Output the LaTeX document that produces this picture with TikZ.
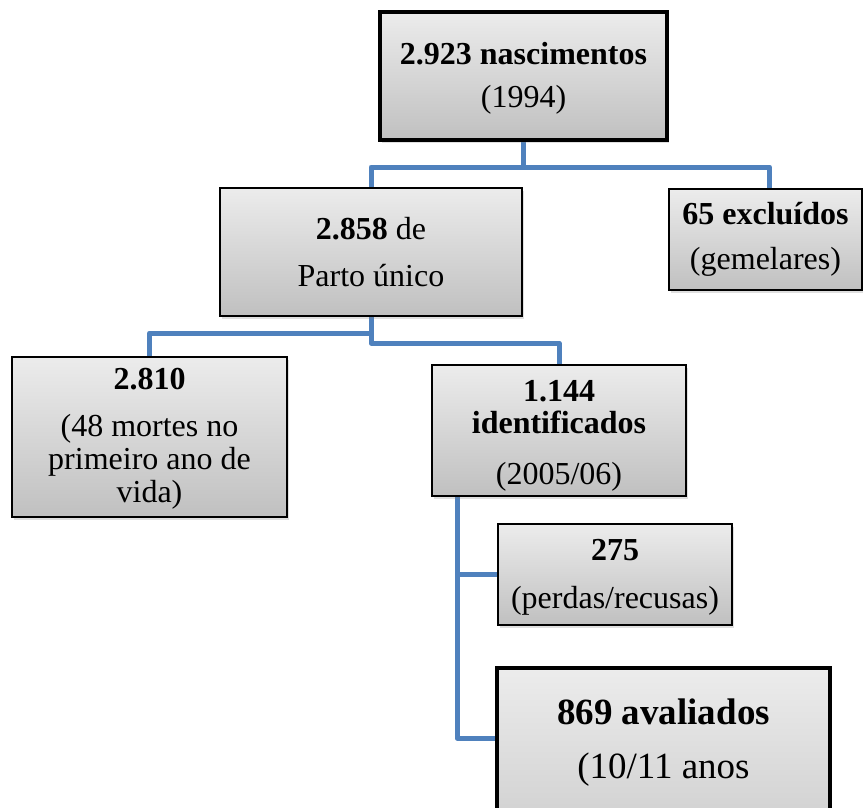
\documentclass[tikz,border=0pt]{standalone}
\usepackage{fontspec}
\setmainfont{Liberation Serif}
\usetikzlibrary{shadows,backgrounds}
\definecolor{linkblue}{RGB}{79,129,189}
\definecolor{gtop}{RGB}{236,236,236}
\definecolor{gbot}{RGB}{192,192,192}
\tikzset{
  box/.style={draw=black, line width=2pt, top color=gtop, bottom color=gbot,
    anchor=north, inner sep=0pt, align=center,
    font=\fontsize{32}{33}\selectfont,
    drop shadow={shadow xshift=2pt,shadow yshift=-3pt,opacity=0.25}},
  thickbox/.style={box, line width=4pt},
  link/.style={draw=linkblue, line width=5pt, line join=round},
}
\begin{document}
\begin{tikzpicture}[x=1pt,y=-1pt]
\useasboundingbox (0,0) rectangle (863,807);
\clip (0,0) rectangle (863,807);

\node[thickbox, minimum width=287pt] (top) at (523.5,10)
  {\rule{0pt}{52pt}\textbf{2.923 nascimentos}\\[10pt](1994)\rule[-33pt]{0pt}{0pt}};
\node[box, minimum width=302pt] (b2858) at (371,187)
  {\rule{0pt}{51pt}\textbf{2.858} de\\[14pt]Parto único\rule[-30pt]{0pt}{0pt}};
\node[box, minimum width=193pt] (b65) at (765.5,188)
  {\rule{0pt}{35pt}\textbf{65 excluídos}\\[12pt](gemelares)\rule[-21pt]{0pt}{0pt}};
\node[box, minimum width=275pt] (b2810) at (149.5,356)
  {\rule{0pt}{32pt}\textbf{2.810}\\[14pt](48 mortes no\\primeiro ano de\\vida)\rule[-15pt]{0pt}{0pt}};
\node[box, minimum width=254pt] (b1144) at (559,364)
  {\rule{0pt}{36pt}\textbf{1.144}\\[-1pt]\textbf{identificados}\\[18pt](2005/06)\rule[-12pt]{0pt}{0pt}};
\node[box, minimum width=234pt] (b275) at (615,523)
  {\rule{0pt}{36pt}\textbf{275}\\[15pt](perdas/recusas)\rule[-17pt]{0pt}{0pt}};
\node[thickbox, minimum width=333pt, font=\fontsize{37}{38}\selectfont] (b869) at (663.5,666)
  {\rule{0pt}{56pt}\textbf{869 avaliados}\\[16pt](10/11 anos\rule[-144pt]{0pt}{0pt}};

\coordinate (j1) at (523.5,167);
\coordinate (j2) at (371,333);
\coordinate (j3) at (371,343);
\coordinate (v1) at (457,495);
\coordinate (e869) at (497,738);

\begin{scope}[on background layer]
\draw[link] (top.south) -- (j1) -| (b2858.north);
\draw[link] (j1) -| ([xshift=4pt]b65.north);
\draw[link] (b2858.south) -- (j2) -| (b2810.north);
\draw[link] (b2858.south) -- (j3) -| (b1144.north);
\draw[link] (v1) |- (b275.west);
\draw[link] (v1) |- (e869);
\end{scope}
\end{tikzpicture}
\end{document}
